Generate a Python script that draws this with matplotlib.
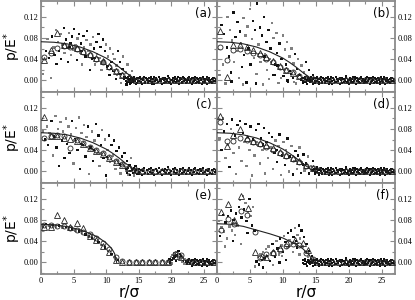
import matplotlib
matplotlib.use("Agg")
import matplotlib.pyplot as plt
from matplotlib.ticker import MultipleLocator, FormatStrFormatter

# ---- data ------------------------------------------------------------------
grid_r = [0.5, 1.5, 2.5, 3.5, 4.5, 5.5, 6.5, 7.5, 8.5, 9.5, 10.5, 11.5, 12.5, 13.5,
          14.5, 15.5, 16.5, 17.5, 18.5, 19.5, 20.5, 21.5, 22.5, 23.5, 24.5, 25.5, 26.5]

# theory curves
curve_r = [0, 2, 4, 6, 8, 10, 11, 12, 13, 14, 14.5]
curve_p = [0.073, 0.072, 0.069, 0.063, 0.054, 0.042, 0.034, 0.025, 0.015, 0.006, 0.0]
curve_e_r = [0, 2, 4, 6, 8, 9, 10, 10.5, 11, 11.3, 11.6]
curve_e_p = [0.072, 0.071, 0.0676, 0.0616, 0.0521, 0.0454, 0.0365, 0.0306, 0.0229, 0.0163, 0.0]
curve_f_r = [0, 2, 4, 6, 8, 10, 11, 12, 13, 14, 14.6]
curve_f_p = [0.073, 0.072, 0.068, 0.061, 0.054, 0.046, 0.040, 0.034, 0.026, 0.014, 0.0]

# triangles / circles (on grid_r unless stated)
tri_a = [0.039, 0.057, 0.090, 0.066, 0.066, 0.062, 0.056, 0.050, 0.043, 0.036, 0.027, 0.018, 0.010, 0.004,
         0.001, 0, 0, 0, 0, 0, 0, 0, 0, 0, 0, 0, 0]
cir_a = [0.045, 0.052, 0.061, 0.064, 0.063, 0.059, 0.054, 0.048, 0.041, 0.034, 0.025, 0.017, 0.010, 0.005,
         0.001, 0, 0, 0, 0, 0, 0, 0, 0, 0, 0, 0, 0]
tri_b = [0.094, 0.007, 0.066, 0.066, 0.063, 0.058, 0.052, 0.044, 0.036, 0.027, 0.020, 0.014, 0.009, 0.005,
         0.002, 0, 0, 0, 0, 0, 0, 0, 0, 0, 0, 0, 0]
cir_b = [0.063, 0.039, 0.058, 0.059, 0.055, 0.052, 0.048, 0.041, 0.035, 0.026, 0.020, 0.015, 0.009, 0.004,
         0.002, 0, 0, 0, 0, 0, 0, 0, 0, 0, 0, 0, 0]
tri_c = [0.103, 0.066, 0.067, 0.064, 0.061, 0.058, 0.051, 0.045, 0.039, 0.033, 0.026, 0.018, 0.012, 0.007,
         0.003, 0.001, 0, 0, 0, 0, 0, 0, 0, 0, 0, 0, 0]
cir_c = [0.064, 0.067, 0.068, 0.066, 0.045, 0.059, 0.053, 0.046, 0.040, 0.034, 0.027, 0.019, 0.013, 0.007,
         0.003, 0.001, 0, 0, 0, 0, 0, 0, 0, 0, 0, 0, 0]
tri_d = [0.105, 0.048, 0.069, 0.080, 0.063, 0.058, 0.054, 0.049, 0.044, 0.037, 0.031, 0.025, 0.019, 0.012,
         0.007, 0.003, 0.001, 0, 0, 0, 0, 0, 0, 0, 0, 0, 0]
cir_d = [0.093, 0.058, 0.058, 0.064, 0.060, 0.055, 0.051, 0.046, 0.041, 0.035, 0.029, 0.023, 0.017, 0.011,
         0.006, 0.002, 0.001, 0, 0, 0, 0, 0, 0, 0, 0, 0, 0]
tri_e = [0.067, 0.067, 0.089, 0.080, 0.066, 0.075, 0.065, 0.050, 0.042, 0.031, 0.019, 0.005, 0.001, 0,
         0, 0, 0, 0, 0, 0, 0.012, 0.010, 0.002, 0, 0, 0, 0]
cir_e = [0.071, 0.070, 0.069, 0.068, 0.065, 0.062, 0.058, 0.054, 0.046, 0.037, 0.026, 0.010, 0.002, 0,
         0, 0, 0, 0, 0, 0, 0.016, 0.013, 0.003, 0, 0, 0, 0]
tri_f_r = [0.6, 1.6, 2.6, 3.6, 4.7, 5.8, 6.8, 7.5, 8.5, 9.5, 10.6, 11.8, 13.1, 13.8, 14.5,
           15.5, 16.5, 17.5, 18.5, 19.5, 20.5, 21.5, 22.5, 23.5, 24.5, 25.5, 26.5]
tri_f = [0.095, 0.110, 0.081, 0.126, 0.102, 0.020, 0.012, 0.010, 0.020, 0.027, 0.037, 0.043, 0.037, 0.024,
         0.005, 0, 0, 0, 0, 0, 0, 0, 0, 0, 0, 0, 0]
cir_f_r = [0.6, 1.6, 2.6, 3.6, 4.6, 5.8, 6.5, 7.5, 8.5, 9.5, 10.5, 11.5, 12.5, 13.5, 14.5,
           15.5, 16.5, 17.5, 18.5, 19.5, 20.5, 21.5, 22.5, 23.5, 24.5, 25.5, 26.5]
cir_f = [0.061, 0.082, 0.072, 0.098, 0.090, 0.058, 0.008, 0.015, 0.018, 0.024, 0.030, 0.035, 0.032, 0.018,
         0.006, 0.001, 0, 0, 0, 0, 0, 0, 0, 0, 0, 0, 0]

# noise band of particle pressures outside the contact
band_1 = [(13.0, 0.004), (13.2, -0.003), (13.4, 0.006), (13.6, -0.006), (13.7, 0.001), (13.9, 0.003),
          (14.1, -0.004), (14.3, 0.007), (14.4, -0.001), (14.6, 0.002), (14.8, -0.005), (15.0, 0.005),
          (15.1, -0.002), (15.3, 0.003), (15.5, -0.007), (15.7, 0.001), (15.8, 0.006), (16.0, -0.003),
          (16.2, 0.002), (16.4, -0.005), (16.5, 0.004), (16.7, -0.001), (16.9, 0.007), (17.1, -0.004),
          (17.2, 0.002), (17.4, -0.006), (17.6, 0.005), (17.8, 0.000), (17.9, -0.003), (18.1, 0.006),
          (18.3, -0.002), (18.5, 0.003), (18.6, -0.006), (18.8, 0.001), (19.0, 0.005), (19.2, -0.004),
          (19.3, 0.002), (19.5, 0.008), (19.7, -0.003), (19.9, 0.001), (20.0, -0.006), (20.2, 0.004),
          (20.4, -0.001), (20.6, 0.006), (20.7, -0.004), (20.9, 0.002), (21.1, -0.007), (21.3, 0.005),
          (21.4, 0.000), (21.6, -0.003), (21.8, 0.007), (22.0, -0.002), (22.1, 0.003), (22.3, -0.005),
          (22.5, 0.001), (22.7, 0.006), (22.8, -0.004), (23.0, 0.002), (23.2, -0.006), (23.4, 0.004),
          (23.5, -0.001), (23.7, 0.006), (23.9, -0.003), (24.1, 0.002), (24.2, -0.005), (24.4, 0.005),
          (24.6, 0.000), (24.8, -0.004), (24.9, 0.007), (25.1, -0.002), (25.3, 0.003), (25.5, -0.006),
          (25.6, 0.001), (25.8, 0.005), (26.0, -0.003), (26.2, 0.002), (26.3, -0.005), (26.5, 0.004),
          (26.7, -0.001), (26.9, 0.003)]
band_2 = [(13.1, -0.001), (13.3, 0.002), (13.5, -0.004), (13.8, 0.005), (14.0, -0.002), (14.2, 0.001),
          (14.5, -0.006), (14.7, 0.004), (14.9, -0.001), (15.2, 0.006), (15.4, -0.003), (15.6, 0.002),
          (15.9, -0.005), (16.1, 0.004), (16.3, 0.000), (16.6, -0.002), (16.8, 0.003), (17.0, -0.006),
          (17.3, 0.006), (17.5, -0.002), (17.7, 0.001), (18.0, -0.004), (18.2, 0.003), (18.4, -0.001),
          (18.7, 0.005), (18.9, -0.005), (19.1, 0.002), (19.4, -0.002), (19.6, 0.004), (19.8, -0.005),
          (20.1, 0.001), (20.3, -0.003), (20.5, 0.003), (20.8, -0.001), (21.0, 0.006), (21.2, -0.002),
          (21.5, 0.002), (21.7, -0.005), (21.9, 0.004), (22.2, 0.000), (22.4, -0.003), (22.6, 0.005),
          (22.9, -0.001), (23.1, 0.004), (23.3, -0.003), (23.6, 0.001), (23.8, -0.005), (24.0, 0.005),
          (24.3, -0.001), (24.5, 0.003), (24.7, -0.006), (25.0, 0.002), (25.2, -0.003), (25.4, 0.006),
          (25.7, -0.002), (25.9, 0.001), (26.1, -0.004), (26.4, 0.005), (26.6, -0.002), (26.8, 0.001)]

# scattered particle pressures inside the contact
dots_a = [(0.3, 0.012), (0.8, 0.055), (1.0, 0.078), (1.2, 0.042), (1.5, 0.005), (1.7, 0.083), (1.9, 0.062),
          (2.1, 0.048), (2.3, 0.095), (2.4, 0.031), (2.6, 0.072), (2.8, 0.056), (3.0, 0.088), (3.1, 0.040),
          (3.3, 0.068), (3.5, 0.099), (3.6, 0.052), (3.8, 0.077), (4.0, 0.061), (4.1, 0.035), (4.3, 0.090),
          (4.5, 0.071), (4.6, 0.048), (4.8, 0.083), (5.0, 0.058), (5.1, 0.097), (5.3, 0.066), (5.5, 0.039),
          (5.6, 0.079), (5.8, 0.088), (6.0, 0.052), (6.1, 0.070), (6.3, 0.030), (6.5, 0.084), (6.6, 0.062),
          (6.8, 0.045), (7.0, 0.076), (7.1, 0.093), (7.3, 0.055), (7.5, 0.020), (7.6, 0.068), (7.8, 0.040),
          (8.0, 0.082), (8.1, 0.060), (8.3, 0.030), (8.5, 0.072), (8.6, 0.050), (8.8, 0.088), (9.0, 0.042),
          (9.1, 0.063), (9.3, 0.020), (9.5, 0.077), (9.6, 0.034), (9.8, 0.055), (10.0, 0.068), (10.1, 0.026),
          (10.3, 0.045), (10.5, 0.010), (10.6, 0.060), (10.8, 0.035), (11.0, 0.050), (11.1, 0.018),
          (11.3, 0.040), (11.5, 0.003), (11.6, 0.028), (11.8, 0.055), (12.0, 0.012), (12.1, 0.035),
          (12.3, -0.005), (12.5, 0.022), (12.6, 0.045), (12.8, 0.006), (13.0, 0.015), (13.1, -0.008),
          (13.3, 0.030), (13.5, 0.002), (13.6, 0.010), (13.8, -0.004), (14.0, 0.018), (14.2, 0.004),
          (5.2, 0.060), (6.2, 0.055), (7.2, 0.048), (8.2, 0.042), (9.2, 0.034), (10.2, 0.027), (11.2, 0.020),
          (12.2, 0.012), (3.4, 0.061), (4.4, 0.063), (9.7, 0.038), (10.7, 0.022), (11.7, 0.010), (12.7, 0.003)]
dots_b = [(0.4, 0.010), (0.7, 0.105), (0.9, 0.030), (1.1, 0.088), (1.3, -0.006), (1.5, 0.062), (1.6, 0.120),
          (1.8, 0.045), (2.0, 0.095), (2.1, 0.015), (2.3, 0.075), (2.5, 0.128), (2.6, 0.035), (2.8, 0.082),
          (3.0, 0.055), (3.1, 0.110), (3.3, 0.005), (3.5, 0.092), (3.6, 0.070), (3.8, 0.025), (4.0, 0.118),
          (4.1, 0.048), (4.3, 0.085), (4.5, -0.004), (4.6, 0.102), (4.8, 0.060), (5.0, 0.135), (5.1, 0.030),
          (5.3, 0.078), (5.5, 0.112), (5.6, 0.042), (5.8, 0.095), (6.0, 0.012), (6.1, 0.145), (6.3, 0.068),
          (6.5, 0.100), (6.6, 0.035), (6.8, 0.085), (7.0, -0.008), (7.1, 0.120), (7.3, 0.050), (7.5, 0.072),
          (7.6, 0.020), (7.8, 0.095), (8.0, 0.040), (8.1, 0.060), (8.3, 0.108), (8.5, 0.010), (8.6, 0.080),
          (8.8, 0.030), (9.0, 0.090), (9.1, 0.052), (9.3, -0.005), (9.5, 0.070), (9.6, 0.022), (9.8, 0.040),
          (10.0, 0.085), (10.1, 0.008), (10.3, 0.058), (10.5, 0.030), (10.6, 0.072), (10.8, -0.002),
          (11.0, 0.045), (11.1, 0.018), (11.3, 0.060), (11.5, 0.004), (11.6, 0.032), (11.8, 0.050),
          (12.0, -0.006), (12.1, 0.022), (12.3, 0.040), (12.5, 0.010), (12.8, 0.028), (13.0, -0.004),
          (13.2, 0.015), (13.5, 0.035), (13.7, 0.005), (14.0, 0.020), (14.3, 0.002), (14.6, 0.010),
          (6.2, 0.050), (7.2, 0.045), (8.2, 0.035), (9.2, 0.028), (10.2, 0.020), (11.2, 0.012), (12.2, 0.008),
          (8.7, 0.010), (9.7, 0.005), (10.7, 0.000), (11.7, -0.003), (12.7, 0.002), (3.9, -0.008),
          (5.9, -0.006), (7.9, 0.003), (2.2, -0.002)]
dots_c = [(0.3, 0.075), (0.6, 0.060), (0.9, 0.085), (1.1, 0.050), (1.3, 0.072), (1.6, 0.095), (1.8, 0.030),
          (2.0, 0.066), (2.2, 0.105), (2.4, 0.045), (2.6, 0.080), (2.8, 0.010), (3.0, 0.093), (3.2, 0.058),
          (3.4, 0.075), (3.6, 0.025), (3.8, 0.100), (4.0, 0.052), (4.2, 0.085), (4.4, 0.035), (4.6, 0.070),
          (4.8, 0.095), (5.0, 0.015), (5.2, 0.060), (5.4, 0.082), (5.6, 0.040), (5.8, 0.102), (6.0, 0.005),
          (6.2, 0.072), (6.4, 0.050), (6.6, 0.088), (6.8, 0.028), (7.0, 0.065), (7.2, 0.085), (7.4, -0.005),
          (7.6, 0.045), (7.8, 0.075), (8.0, 0.020), (8.2, 0.058), (8.4, 0.090), (8.6, 0.035), (8.8, 0.068),
          (9.0, 0.010), (9.2, 0.050), (9.4, 0.078), (9.6, 0.025), (9.8, 0.060), (10.0, -0.008),
          (10.2, 0.040), (10.4, 0.068), (10.6, 0.018), (10.8, 0.050), (11.0, 0.030), (11.2, 0.058),
          (11.4, 0.005), (11.6, 0.038), (11.8, 0.020), (12.0, 0.045), (12.2, -0.004), (12.4, 0.028),
          (12.6, 0.012), (12.8, 0.035), (13.0, 0.002), (13.2, 0.020), (13.4, -0.006), (13.6, 0.012),
          (13.8, 0.025), (14.0, 0.004), (14.3, -0.008), (14.5, 0.010), (14.8, 0.001), (15.0, -0.004),
          (5.1, 0.058), (6.1, 0.052), (7.1, 0.046), (8.1, 0.040), (9.1, 0.034), (10.1, 0.027), (11.1, 0.020),
          (12.1, 0.013), (13.1, 0.007)]
dots_d = [(0.4, 0.062), (0.7, 0.040), (0.9, 0.100), (1.1, 0.075), (1.3, 0.025), (1.5, 0.090), (1.7, 0.050),
          (1.9, 0.008), (2.1, 0.080), (2.3, 0.098), (2.5, 0.035), (2.7, 0.068), (2.9, -0.005), (3.1, 0.088),
          (3.3, 0.045), (3.5, 0.095), (3.7, 0.020), (3.9, 0.072), (4.1, 0.055), (4.3, 0.090), (4.5, 0.010),
          (4.7, 0.065), (4.9, 0.040), (5.1, 0.085), (5.3, -0.008), (5.5, 0.060), (5.7, 0.030), (5.9, 0.078),
          (6.1, 0.050), (6.3, 0.090), (6.5, 0.015), (6.7, 0.062), (6.9, 0.040), (7.1, 0.082), (7.3, -0.004),
          (7.5, 0.055), (7.7, 0.025), (7.9, 0.072), (8.1, 0.045), (8.3, 0.065), (8.5, 0.005), (8.7, 0.035),
          (8.9, 0.058), (9.1, 0.018), (9.3, 0.048), (9.5, 0.070), (9.7, -0.007), (9.9, 0.030), (10.1, 0.055),
          (10.3, 0.012), (10.5, 0.040), (10.7, 0.062), (10.9, 0.000), (11.1, 0.028), (11.3, 0.048),
          (11.5, -0.006), (11.7, 0.020), (11.9, 0.038), (12.1, 0.005), (12.3, 0.030), (12.5, 0.045),
          (12.7, -0.003), (12.9, 0.018), (13.1, 0.032), (13.3, 0.002), (13.5, 0.015), (13.8, 0.028),
          (14.0, -0.004), (14.3, 0.010), (14.6, 0.020), (14.9, 0.002), (15.2, 0.008),
          (6.0, 0.056), (7.0, 0.051), (8.0, 0.046), (9.0, 0.040), (10.0, 0.034), (11.0, 0.027), (12.0, 0.020),
          (13.0, 0.013), (14.0, 0.008)]
dots_e = [(0.3, 0.068), (0.8, 0.072), (1.3, 0.069), (1.8, 0.071), (2.3, 0.068), (2.8, 0.070), (3.3, 0.066),
          (3.8, 0.067), (4.3, 0.064), (4.8, 0.063), (5.3, 0.060), (5.8, 0.058), (6.3, 0.055), (6.8, 0.053),
          (7.3, 0.049), (7.8, 0.046), (8.3, 0.042), (8.8, 0.038), (9.3, 0.033), (9.8, 0.028), (10.3, 0.022),
          (10.8, 0.016), (11.3, 0.010), (11.8, 0.004),
          (19.5, 0.002), (19.7, 0.006), (19.9, 0.010), (20.0, 0.004), (20.2, 0.014), (20.3, 0.008),
          (20.5, 0.017), (20.6, 0.011), (20.8, 0.020), (20.9, 0.013), (21.0, 0.018), (21.1, 0.022),
          (21.2, 0.010), (21.3, 0.016), (21.4, 0.006), (21.5, 0.012), (21.7, 0.008), (21.8, 0.003),
          (22.0, 0.006), (22.2, 0.002), (20.1, -0.002), (20.7, 0.003), (21.6, 0.001), (20.4, 0.012),
          (21.9, -0.002), (19.8, 0.000)]
dots_f = [(0.3, 0.078), (0.5, 0.050), (0.7, 0.066), (0.9, 0.090), (1.1, 0.058), (1.3, 0.075), (1.5, 0.045),
          (1.7, 0.088), (1.9, 0.068), (2.1, 0.098), (2.3, 0.060), (2.5, 0.080), (2.7, 0.052), (2.9, 0.092),
          (3.1, 0.070), (3.3, 0.105), (3.5, 0.118), (3.7, 0.085), (3.9, 0.125), (4.1, 0.100), (4.3, 0.112),
          (4.5, 0.078), (4.7, 0.095), (4.9, 0.120), (5.1, 0.088), (5.3, 0.070), (5.5, 0.105), (5.7, 0.060),
          (1.2, 0.030), (2.4, 0.040), (3.6, 0.035), (4.6, 0.055),
          (5.8, -0.008), (6.0, 0.002), (6.2, 0.010), (6.4, -0.004), (6.6, 0.015), (6.8, 0.005), (7.0, 0.020),
          (7.2, 0.008), (7.4, 0.025), (7.6, 0.012), (7.8, 0.030), (8.0, 0.003), (8.2, 0.018), (8.4, 0.035),
          (8.6, 0.022), (8.8, 0.010), (9.0, 0.040), (9.2, 0.026), (9.4, 0.015), (9.6, 0.045), (9.8, 0.032),
          (10.0, 0.020), (10.2, 0.050), (10.4, 0.038), (10.6, 0.028), (10.8, 0.055), (11.0, 0.042),
          (11.2, 0.060), (11.4, 0.035), (11.6, 0.048), (11.8, 0.065), (12.0, 0.040), (12.2, 0.052),
          (12.4, 0.070), (12.6, 0.045), (12.8, 0.060), (13.0, 0.030), (13.2, 0.048), (13.4, 0.020),
          (13.6, 0.035), (13.8, 0.010), (14.0, 0.022), (14.2, 0.005), (14.4, 0.012), (8.5, -0.005),
          (10.5, 0.005), (12.5, 0.015), (9.5, 0.000), (11.5, 0.020), (7.0, -0.010), (10.9, 0.030),
          (12.1, 0.028), (9.9, 0.012)]

labels = ["(a)", "(b)", "(c)", "(d)", "(e)", "(f)"]
ticks_x = [0, 5, 10, 15, 20, 25]
ticks_y = [0.00, 0.04, 0.08, 0.12]

# ---- figure -----------------------------------------------------------------
frame = "#8a8a8a"
serif = ["Liberation Serif", "DejaVu Serif"]

fig = plt.figure(figsize=(4.15, 3.0), dpi=100)
W, H = 415.0, 300.0
lefts = [41 / W, 217 / W]
widths = [176 / W, 178 / W]
ph = 91 / H
bottoms = [1 - 92 / H, 1 - 183 / H, 1 - 274 / H]

panels = [
    (grid_r, tri_a, grid_r, cir_a, dots_a, band_1 + band_2, curve_r, curve_p),
    (grid_r, tri_b, grid_r, cir_b, dots_b, band_1 + band_2, curve_r, curve_p),
    (grid_r, tri_c, grid_r, cir_c, dots_c, band_1, curve_r, curve_p),
    (grid_r, tri_d, grid_r, cir_d, dots_d, [b for b in band_1 + band_2 if b[0] > 14.5], curve_r, curve_p),
    (grid_r, tri_e, grid_r, cir_e, dots_e, [b for b in band_1 + band_2 if b[0] > 22.3], curve_e_r, curve_e_p),
    (tri_f_r, tri_f, cir_f_r, cir_f, dots_f, band_1 + band_2, curve_f_r, curve_f_p),
]

for i, (tr, tp, cr, cp, dots, band, kr, kp) in enumerate(panels):
    row, col = divmod(i, 2)
    ax = fig.add_axes([lefts[col], bottoms[row], widths[col], ph])

    cols = ["#111111" if k % 2 else "#808080" for k in range(len(dots))]
    ax.scatter([p[0] for p in dots], [p[1] for p in dots], s=3, c=cols, marker="s",
               linewidths=0, zorder=2)
    ax.scatter([p[0] for p in band], [p[1] for p in band], s=4.5, c="#111111", marker="s",
               linewidths=0, zorder=2)

    ax.plot(cr, cp, ls="none", marker="o", ms=3.6, mfc="none", mec="#222222", mew=0.6, zorder=3)
    ax.plot(tr, tp, ls="none", marker="^", ms=4.2, mfc="none", mec="#222222", mew=0.6, zorder=3)
    ax.plot(kr, kp, color="#222222", lw=0.8, zorder=4)

    ax.set_xlim(0, 27)
    ax.set_ylim(-0.022, 0.15)
    ax.xaxis.set_major_locator(MultipleLocator(5))
    ax.xaxis.set_minor_locator(MultipleLocator(2.5))
    ax.set_yticks(ticks_y)
    ax.yaxis.set_minor_locator(MultipleLocator(0.02))
    ax.yaxis.set_major_formatter(FormatStrFormatter("%.2f"))
    ax.tick_params(which="both", direction="in", top=True, bottom=True, left=True, right=True,
                   color=frame, width=0.8, labelsize=6)
    ax.tick_params(which="major", length=3.5, pad=2)
    ax.tick_params(which="minor", length=2)
    for s in ax.spines.values():
        s.set_color(frame)
        s.set_linewidth(1.3)

    if row < 2:
        ax.set_xticklabels([])
    else:
        ax.set_xticks(ticks_x)
        ax.set_xlabel("r/σ", fontsize=11, labelpad=0)
    if col == 1:
        ax.tick_params(labelleft=False, labelright=True)
    else:
        yc = bottoms[row] + ph / 2
        fig.text(12 / W, yc, "p/E$^{*}$", rotation=90, ha="center", va="center", fontsize=10)
    for t in ax.get_xticklabels() + ax.get_yticklabels():
        t.set_family(serif)

    ax.text(0.97, 0.86, labels[i], transform=ax.transAxes, ha="right", va="center", fontsize=8.5)

fig.savefig("out.png", dpi=100)
